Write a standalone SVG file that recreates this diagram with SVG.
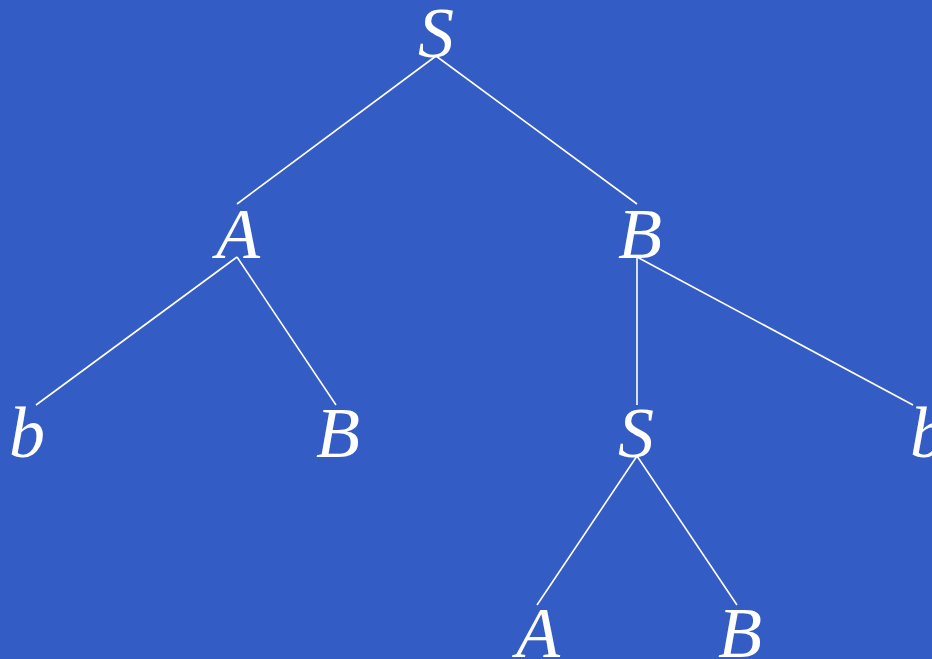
<svg xmlns="http://www.w3.org/2000/svg" width="932" height="659" viewBox="0 0 932 659">
<style>
.t{font-family:"Liberation Serif","Times New Roman",serif;font-style:italic;font-size:72px;fill:#ffffff;text-anchor:middle}
.e{stroke:#ffffff;stroke-width:1.6;fill:none}
</style>
<rect width="932" height="659" fill="#335cc4"/>
<g id="edges">
<line class="e" x1="436" y1="56" x2="237" y2="204"/>
<line class="e" x1="436" y1="56" x2="637" y2="204"/>
<line class="e" x1="237" y1="257" x2="36" y2="405"/>
<line class="e" x1="237" y1="257" x2="336" y2="405"/>
<line class="e" x1="637" y1="257" x2="637" y2="405"/>
<line class="e" x1="637" y1="257" x2="913" y2="405"/>
<line class="e" x1="637" y1="456" x2="537" y2="605"/>
<line class="e" x1="637" y1="456" x2="737" y2="605"/>
</g>
<g id="n0"><text class="t" x="436" y="57">S</text></g>
<g id="n1"><text class="t" x="238" y="258">A</text></g>
<g id="n2"><text class="t" x="640" y="258">B</text></g>
<g id="n3"><text class="t" x="27" y="457">b</text></g>
<g id="n4"><text class="t" x="338" y="457">B</text></g>
<g id="n5"><text class="t" x="636" y="457">S</text></g>
<g id="n6"><text class="t" x="928" y="457">b</text></g>
<g id="n7"><text class="t" x="538" y="657">A</text></g>
<g id="n8"><text class="t" x="740" y="657">B</text></g>
</svg>
